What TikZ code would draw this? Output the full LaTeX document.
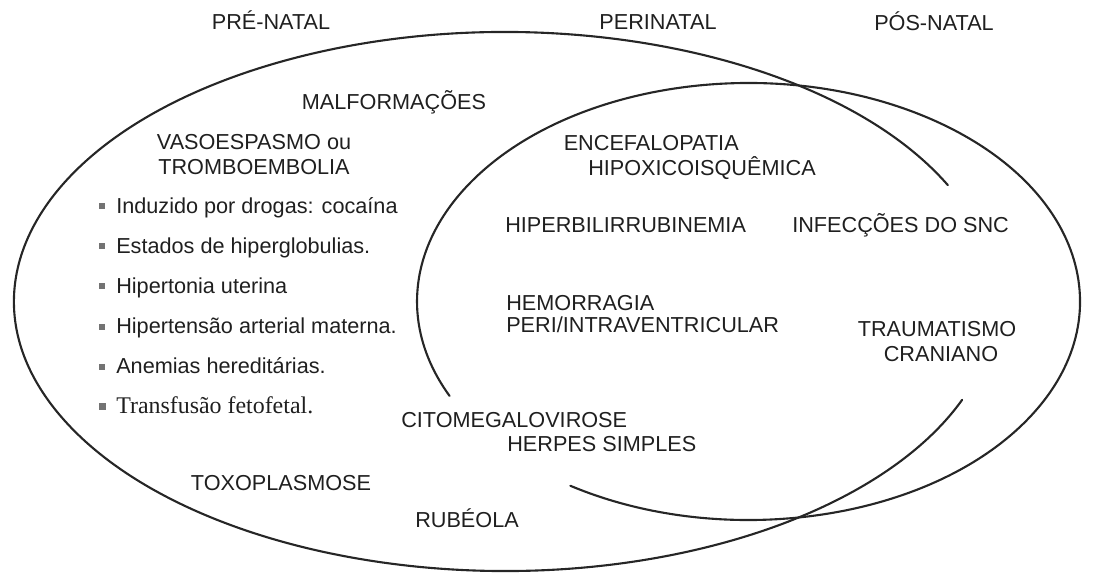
\documentclass[tikz,border=0pt]{standalone}
\usepackage{fontspec}
\setmainfont{Liberation Sans}
\newfontfamily\timesfont{Liberation Serif}
\tikzset{
  curve/.style={line width=1.5pt, black!85},
  lbl/.style={inner sep=0pt, anchor=base, text=black!88},
  lblw/.style={lbl, anchor=base west},
  sq/.style={fill=black!55}
}
\begin{document}
\begin{tikzpicture}[x=.025cm, y=.025cm, line join=round, line cap=round, font=\fontsize{15.4}{18}\selectfont]
  \def\acx{505} \def\acy{271.5} \def\arx{491} \def\ary{269.5}
  \def\bcx{748.5} \def\bcy{271.5} \def\brx{331.5} \def\bry{218.5}
  \useasboundingbox (0,0) rectangle (1096,573);
  % pre-natal and perinatal/pos-natal curves
  \coordinate (aS) at ({\acx+\arx*cos(25.6)}, {\acy+\ary*sin(25.6)});
  \draw[curve] (aS) arc[start angle=25.6, end angle=338.6, x radius=\arx, y radius=\ary];
  \coordinate (bS) at ({\bcx+\brx*cos(237.5)}, {\bcy+\bry*sin(237.5)});
  \draw[curve] (bS) arc[start angle=237.5, end angle=565.6, x radius=\brx, y radius=\bry];
  % headings
  \node[lbl] (prenatal) at (271,543.5) {PRÉ-NATAL};
  \node[lbl] (perinatal) at (658,543.5) {PERINATAL};
  \node[lbl] (posnatal) at (934,542.5) {PÓS-NATAL};
  % pre-natal causes
  \node[lbl] (malform) at (394,463.5) {MALFORMAÇÕES};
  \node[lbl] (vaso) at (254,423.5) {VASOESPASMO ou};
  \node[lbl] (trombo) at (254,398.5) {TROMBOEMBOLIA};
  \foreach \yy/\txt [count=\i] in {359.5/Induzido por drogas: cocaína, 319.5/Estados de hiperglobulias., 279.5/Hipertonia uterina, 239.5/Hipertensão arterial materna., 199.5/Anemias hereditárias.}{
    \node[lblw] (item\i) at (116,\yy) {\txt};
    \fill[sq] (99,\yy+4) rectangle ++(6,6);
  }
  \node[lblw, font=\timesfont\fontsize{17}{20}\selectfont] (item6) at (116,159.5) {Transfusão fetofetal.};
  \fill[sq] (99,163.5) rectangle ++(7,7);
  \node[lbl] (toxo) at (281,82.5) {TOXOPLASMOSE};
  \node[lbl] (rubeola) at (467,45.5) {RUBÉOLA};
  % perinatal causes
  \node[lblw] (encef) at (563.5,422.5) {ENCEFALOPATIA};
  \node[lblw] (hipox) at (588,397.5) {HIPOXICOISQUÊMICA};
  \node[lblw] (hiperbil) at (505,340.5) {HIPERBILIRRUBINEMIA};
  \node[lblw] (hemor) at (506,263) {HEMORRAGIA};
  \node[lblw] (peri) at (506,240.5) {PERI/INTRAVENTRICULAR};
  \node[lblw] (cito) at (401,145.5) {CITOMEGALOVIROSE};
  \node[lblw] (herpes) at (507,122) {HERPES SIMPLES};
  % pos-natal causes
  \node[lblw] (infec) at (792,340.5) {INFECÇÕES DO SNC};
  \node[lbl] (trauma) at (937,236.5) {TRAUMATISMO};
  \node[lbl] (cran) at (941,211.5) {CRANIANO};
\end{tikzpicture}
\end{document}
